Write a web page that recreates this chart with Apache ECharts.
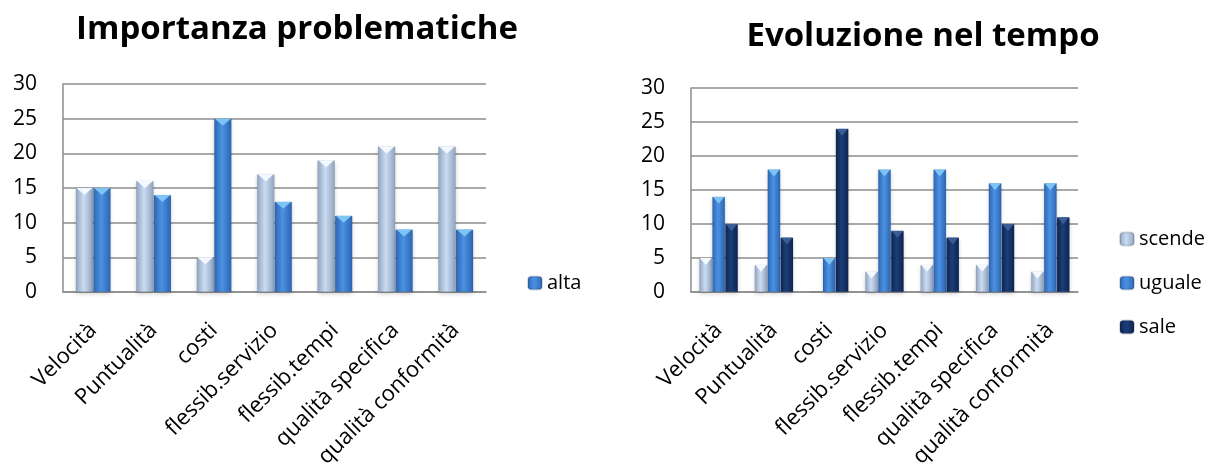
<!DOCTYPE html>
<html><head><meta charset="utf-8">
<script src="https://cdn.jsdelivr.net/npm/echarts@6/dist/echarts.min.js"></script>
<style>html,body{margin:0;padding:0;background:#fff}#c{width:1208px;height:474px}</style>
</head><body><div id="c"></div>
<script>
const categories = ['Velocità','Puntualità','costi','flessib.servizio','flessib.tempi','qualità specifica','qualità conformità'];
const leftBase = [15,16,5,17,19,21,21];
const leftAlta = [15,14,25,13,11,9,9];
const scende = [5,4,0,3,4,4,3];
const uguale = [14,18,5,18,18,16,16];
const sale = [10,8,24,9,8,10,11];
const yTicks = [0,5,10,15,20,25,30];

const FONT = 'Open Sans';
function grad(edge, mid){
  return new echarts.graphic.LinearGradient(0,0,1,0,[
    {offset:0,color:edge},{offset:0.45,color:mid},{offset:1,color:edge}]);
}
const cLight = grad('#8ea3bf','#cbdcf2');
const cBlue = grad('#2b64b2','#4b92e2');
const cDark = grad('#0c2350','#1c3e78');

function xAxis(gi){
  return {type:'category',gridIndex:gi,data:categories,
    axisLine:{lineStyle:{color:'#8c8c8c',width:1.5}},axisTick:{show:false},
    axisLabel:{rotate:45,fontFamily:FONT,fontSize:22,color:'#000',margin:35,padding:[36,0,0,0],interval:0}};
}
function yAxis(gi){
  return {type:'value',gridIndex:gi,min:yTicks[0],max:yTicks[yTicks.length-1],interval:5,
    axisLine:{show:true,lineStyle:{color:'#8c8c8c',width:1.5}},axisTick:{show:false},
    splitLine:{lineStyle:{color:'#8c8c8c',width:1.5}},
    axisLabel:{fontFamily:FONT,fontSize:21,color:'#000',margin:26}};
}
function bar(name,data,color,gi,gap){
  return {type:'bar',name:name,data:data,xAxisIndex:gi,yAxisIndex:gi,barGap:'0%',barCategoryGap:gap,
    itemStyle:{color:color,borderColor:'rgba(0,0,0,0.15)',borderWidth:0.5,shadowColor:'rgba(0,0,0,0.18)',shadowBlur:4,shadowOffsetY:2},animation:false};
}
function cap(data,color,gi,gap){
  return {type:'pictorialBar',data:data.map(v=>v>0?v:null),xAxisIndex:gi,yAxisIndex:gi,barGap:'0%',barCategoryGap:gap,
    symbol:'path://M0,0 L10,0 L5,5 Z',symbolPosition:'end',symbolSize:['90%',7],symbolOffset:[0,0],
    itemStyle:{color:color},z:3,silent:true,legendHoverLink:false,tooltip:{show:false}};
}
const chart = echarts.init(document.getElementById('c'));
chart.setOption({
  animation:false,
  title:[
    {text:'Importanza problematiche',left:292,top:8,textAlign:'center',textStyle:{fontFamily:FONT,fontWeight:'bold',fontSize:33,color:'#000'}},
    {text:'Evoluzione nel tempo',left:918,top:15,textAlign:'center',textStyle:{fontFamily:FONT,fontWeight:'bold',fontSize:33,color:'#000'}}
  ],
  legend:[
    {data:['alta'],left:527,top:273,padding:0,orient:'vertical',itemWidth:14,itemHeight:13,itemGap:20,textStyle:{fontFamily:FONT,fontSize:20,color:'#000'}},
    {data:['scende','uguale','sale'],left:1119,top:229,padding:0,orient:'vertical',itemWidth:14,itemHeight:13,itemGap:24,textStyle:{fontFamily:FONT,fontSize:20,color:'#000'}}
  ],
  grid:[{left:63,top:84,width:423,height:208},{left:691,top:88,width:387,height:204}],
  xAxis:[xAxis(0),xAxis(1)],
  yAxis:[yAxis(0),yAxis(1)],
  series:[
    bar('',leftBase,cLight,0,'42%'),
    bar('alta',leftAlta,cBlue,0,'42%'),
    bar('scende',scende,cLight,1,'30%'),
    bar('uguale',uguale,cBlue,1,'30%'),
    bar('sale',sale,cDark,1,'30%'),
    cap(leftBase,'#f4f8ff',0,'42%'),
    cap(leftAlta,'#7cc4f4',0,'42%'),
    cap(scende,'#f4f8ff',1,'30%'),
    cap(uguale,'#7cc4f4',1,'30%'),
    cap(sale,'#3a5d96',1,'30%')
  ]
});
</script></body></html>
